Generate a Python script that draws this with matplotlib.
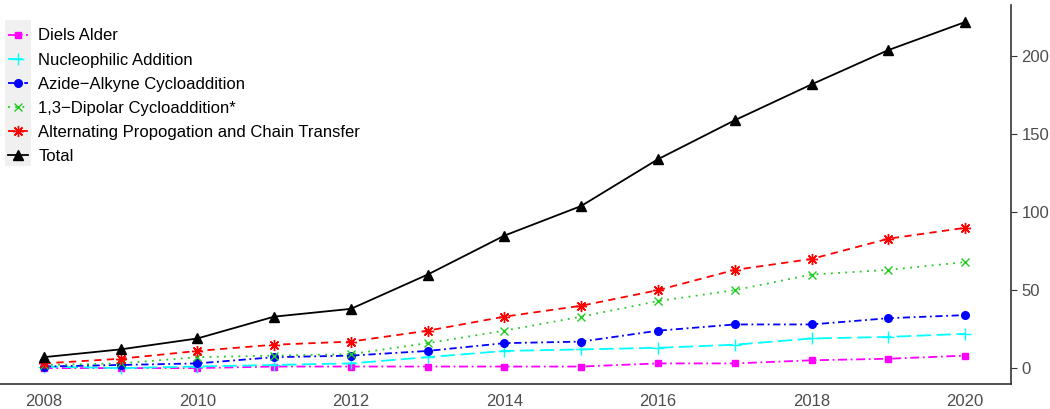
import matplotlib.pyplot as plt
from matplotlib.patches import Rectangle

plt.rcParams['font.family'] = ['Liberation Sans', 'DejaVu Sans']

years = list(range(2008, 2021))
diels_alder = [0, 0, 0, 1, 1, 1, 1, 1, 3, 3, 5, 6, 8]
nucleophilic = [1, 0, 1, 2, 3, 7, 11, 12, 13, 15, 19, 20, 22]
azide_alkyne = [1, 2, 3, 7, 8, 11, 16, 17, 24, 28, 28, 32, 34]
dipolar = [2, 3, 7, 8, 9, 16, 24, 33, 43, 50, 60, 63, 68]
alternating = [3, 6, 11, 15, 17, 24, 33, 40, 50, 63, 70, 83, 90]
total = [7, 12, 19, 33, 38, 60, 85, 104, 134, 159, 182, 204, 222]

series = [
    ("Diels Alder", diels_alder, "#FF00FF", (0, (5, 2, 1, 2)), "s", 5),
    ("Nucleophilic Addition", nucleophilic, "#00FFFF", (0, (8, 3)), "+", 8.5),
    ("Azide\u2212Alkyne Cycloaddition", azide_alkyne, "#0000FF", (0, (4, 2, 1, 2)), "o", 5.5),
    ("1,3\u2212Dipolar Cycloaddition*", dipolar, "#22CC22", (0, (1, 3)), "x", 6),
    ("Alternating Propogation and Chain Transfer", alternating, "#FF0000", (0, (4, 3)), (8, 2, 0), 8),
    ("Total", total, "black", "-", "^", 7),
]

fig = plt.figure(figsize=(10.5, 4.09), dpi=100)
ax = fig.add_axes([0.0, 0.06, 0.963, 0.928])

for label, vals, color, ls, marker, ms in series:
    ax.plot(years, vals, color=color, linestyle=ls, linewidth=1.3,
            marker=marker, markersize=ms, markeredgewidth=1.0, label=label)

ax.set_xlim(2007.43, 2020.6)
ax.set_ylim(-10.5, 233)
ax.set_xticks([2008, 2010, 2012, 2014, 2016, 2018, 2020])
ax.set_yticks([0, 50, 100, 150, 200])
ax.yaxis.tick_right()
for side in ["top", "left"]:
    ax.spines[side].set_visible(False)
for side in ["bottom", "right"]:
    ax.spines[side].set_color("#333333")
    ax.spines[side].set_linewidth(1.2)
ax.tick_params(axis="y", colors="#333333", labelsize=12, length=4, labelcolor="#4D4D4D")
ax.tick_params(axis="x", length=0, labelsize=12, labelcolor="#4D4D4D", pad=7)

leg = ax.legend(loc="upper left", bbox_to_anchor=(0.0, 0.96), frameon=False,
                fontsize=12, handlelength=1.2, handletextpad=0.6,
                labelspacing=0.55, borderaxespad=0.3, borderpad=0.2)
ax.add_patch(Rectangle((5 / 1050, 1 - 166 / 409), 26 / 1050, 146 / 409,
                       transform=fig.transFigure, facecolor="#F0F0F0",
                       edgecolor="none", zorder=0.5, clip_on=False))

fig.savefig("out.png", dpi=100)
